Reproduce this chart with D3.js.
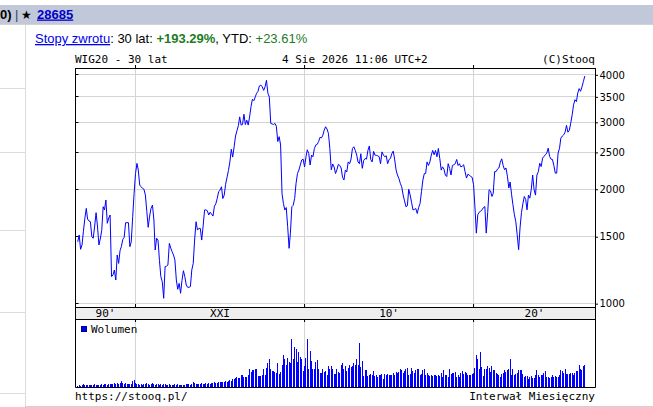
<!DOCTYPE html>
<html>
<head>
<meta charset="utf-8">
<script src="https://cdn.jsdelivr.net/npm/d3@7"></script>
<style>
body { margin: 0; background: #fff; overflow: hidden; }
svg { display: block; }
</style>
</head>
<body>
<svg id="chart" width="653" height="407"></svg>
<script>
// monthly closes of WIG20, Aug 1996 .. Aug 2026
const firstMonth = [1996, 7];
const closeValues = [
    1455,1516,1390,1427,1550,1677,1781,1670,1650,1643,
    1500,1486,1600,1735,1600,1427,1480,1560,1799,1764,
    1874,1627,1680,1711,1178,1190,1226,1154,1343,1276,
    1380,1412,1476,1495,1633,1633,1633,1412,1455,1693,
    1950,2200,2339,2246,2051,2030,2011,2000,1931,1750,
    1588,1700,1781,1817,1660,1384,1486,1470,1300,1178,
    1142,1033,1251,1255,1264,1441,1400,1370,1343,1303,
    1154,1091,1131,1065,1150,1221,1178,1120,1104,1104,
    1109,1226,1276,1470,1643,1562,1578,1578,1470,1601,
    1764,1765,1756,1711,1740,1720,1700,1805,1830,1892,
    1970,1990,2030,1890,1930,2060,2150,2240,2360,2548,
    2430,2587,2760,2850,2940,3100,2950,2960,3150,2960,
    3038,2950,3100,3300,3450,3420,3500,3575,3620,3740,
    3760,3720,3640,3720,3870,3575,3500,2980,2970,2960,
    2980,2930,2670,2750,2615,1950,1835,1764,1790,1594,
    1398,1531,1799,1815,1892,2073,2200,2246,2316,2388,
    2400,2290,2435,2540,2485,2316,2460,2435,2560,2615,
    2625,2670,2740,2730,2775,2860,2920,2880,2805,2560,
    2250,2330,2290,2200,2250,2325,2310,2275,2150,2115,
    2246,2220,2360,2335,2400,2560,2587,2530,2460,2360,
    2335,2480,2270,2380,2410,2400,2530,2600,2395,2360,
    2515,2460,2455,2450,2435,2335,2508,2460,2435,2450,
    2335,2395,2410,2480,2520,2400,2250,2180,2135,2073,
    2030,1931,1864,1799,1810,2000,1931,1848,1764,1770,
    1780,1727,1790,1835,1970,2115,2200,2200,2360,2310,
    2360,2460,2530,2465,2530,2435,2560,2410,2246,2290,
    2260,2180,2160,2335,2270,2180,2310,2320,2335,2395,
    2310,2335,2290,2300,2320,2225,2140,2190,2180,2160,
    2150,2055,1785,1533,1714,1740,1750,1765,1790,1800,
    1533,1735,1994,1980,1914,1950,2225,2225,2260,2275,
    2355,2405,2310,2250,2275,2165,2015,2090,1940,1820,
    1714,1646,1518,1387,1581,1735,1830,1914,1880,1765,
    1930,1895,2000,2180,1994,1930,2180,2225,2340,2295,
    2415,2440,2465,2490,2565,2440,2400,2395,2310,2205,
    2205,2490,2565,2726,2760,2780,2825,2945,2825,2860,
    2985,3140,3335,3440,3400,3580,3680,3620,3720,3840,
    3970
];

// monthly volume, relative units
const volumeOld = [
    2,2.5,2,3,3.5,2.5,3,3,2.5,3,
    2.5,3,3.5,2.5,3,3,2.5,4,3,3.5,
    4,3,4,3.5,4,4,4.5,3.5,5,4,
    4.5,7,5,3.5,4.5,4,3.5,3.5,4,6.5,
    7.5,5,3.5,4,3,3.5,3,4,3.5,4.5,
    3.5,3,3.5,4.5,3.5,3,3.5,4,3,3.5,
    3,3.5,4,3,3,3.5,3,3,3,3.5,
    3,3.5,3,3,3,3,3,3.5,3.5,4,
    3,4,6,4.5,4,3.5,4,4,4.5,3.5,
    4,5,4,4.5,3.5,5,5,5.5,5,4.5,
    6,5.5,6,5.5,6,6.5,6,7,7.5,7,
    8,9,10,11,9.5,10,12.5,12.5,11,11,
    11,12.5,18.5,16,17.5,18,18.5,18.5,12,12,
    12,13,18.5,12.5,20,24,29,19,17,16.5,
    16,15,24,14,16,22.5,32.5,28.5,22.5,30,
    26,25,48.5,28.5,40.5,38.5,26,36,30.5,28.5,
    16.5,22,30,49,18.5,36.5,26.5,18.5,19,26,
    27.5,19,15,15,18.5,16,16.5,13,22,19
];
const volumeNew = [
    21.5,19,14,13.5,18.5,16,15,22.5,24,19,
    21.5,16.5,20,23,21,22,24,22.5,28.5,22.5,
    45,20.5,26.5,12,17.5,17.5,12,12.5,14,13,
    16.5,12,13,11,12.5,12.5,14,9,14,13,
    14,12.5,12.5,12.5,15,13,15.5,15,16,19,
    17.5,15,16.5,19,20,12.5,14,20,16.5,15,
    17.5,19,19,12.5,14,18,19,12.5,15,13,
    12,13,12,12.5,12.5,12,13,12,15,11,
    17.5,13,12.5,11,18.5,14,15,15,15.5,11,
    13,11,15,16.5,14,15.5,15,13,13,13,
    14,15,20,32.5,28.5,19,36,21,12,19,
    19,22,20,15.5,22,17.5,17.5,15,14,12.5,
    11,14,15,17.5,15.5,17.5,18.5,28.5,13,18.5,
    12.5,14,15,17.5,17.5,17.5,14,11,12,12,
    8.5,11,12,10,10,13,17.5,13,11,12.5,
    12.5,15,16.5,11,10.5,10,11,12.5,11,12,
    11,11,13,17.5,16.5,15,18.5,14,14,14,
    14.5,15,13,15,16.5,16.5,22.5,19,17.5,22,
    23
];

const priceTicks = [1000, 1500, 2000, 2500, 3000, 3500, 4000];
const decadeYears = [2000, 2010, 2020];
const decadeLabels = ["90'", "XXI", "10'", "20'"];

const volumeValues = volumeOld.concat(volumeNew);
const monthDate = i => new Date(firstMonth[0], firstMonth[1] + i, 1);
const prices = closeValues.map((v, i) => ({ date: monthDate(i), value: v }));
const volumes = volumeValues.map((v, i) => ({ date: monthDate(i), value: v }));
const decades = decadeYears.map(yr => new Date(yr, 0, 1));

const plot = { left: 75.5, right: 595.5, top: 68.5, bottom: 307.5, band: 319.5, vbottom: 387.5 };
const mono = "'DejaVu Sans Mono', monospace";
const sans = "'Liberation Sans', Arial, sans-serif";
const gridColor = '#d4d4d4';

const svg = d3.select('#chart');

// page chrome
svg.append('rect').attr('x', 0).attr('y', 5).attr('width', 653).attr('height', 19).attr('fill', '#c0c8da');
svg.append('line').attr('x1', 0).attr('x2', 653).attr('y1', 24.5).attr('y2', 24.5).attr('stroke', '#d2d2d2');
svg.append('line').attr('x1', 25.5).attr('x2', 25.5).attr('y1', 25).attr('y2', 407).attr('stroke', '#dcdcdc');
[88, 152, 230, 312, 393].forEach(yy => {
    svg.append('line').attr('x1', 0).attr('x2', 25).attr('y1', yy + 0.5).attr('y2', yy + 0.5).attr('stroke', '#dcdcdc');
});
svg.append('line').attr('x1', 25).attr('x2', 653).attr('y1', 406.5).attr('y2', 406.5).attr('stroke', '#d2d2d2');

const header = svg.append('g').attr('font-family', sans).attr('font-size', 13);
header.append('text').attr('x', 0).attr('y', 18.5).attr('font-weight', 'bold').text('0)');
header.append('text').attr('x', 15).attr('y', 18.5).attr('fill', '#444').text('|');
header.append('text').attr('x', 21).attr('y', 18.5).attr('font-family', "'DejaVu Sans', sans-serif").attr('font-size', 12).text('★');
header.append('text').attr('x', 37).attr('y', 18.5).attr('font-weight', 'bold').attr('fill', '#0000cc')
    .attr('text-decoration', 'underline').text('28685');

const ret = header.append('text').attr('x', 35).attr('y', 43);
ret.append('tspan').attr('fill', '#0000ee').attr('text-decoration', 'underline').text('Stopy zwrotu');
ret.append('tspan').text(': 30 lat: ');
ret.append('tspan').attr('fill', '#1e7b1e').attr('font-weight', 'bold').text('+193.29%');
ret.append('tspan').text(', YTD: ');
ret.append('tspan').attr('fill', '#1e7b1e').text('+23.61%');

// titles
const titles = svg.append('g').attr('font-family', mono).attr('font-size', 11);
titles.append('text').attr('x', 75).attr('y', 63).text('WIG20 - 30 lat');
titles.append('text').attr('x', 282).attr('y', 63).text('4 Sie 2026 11:06 UTC+2');
titles.append('text').attr('x', 595).attr('y', 63).attr('text-anchor', 'end').text('(C)Stooq');
titles.append('text').attr('x', 75).attr('y', 399.5).text('https://stooq.pl/');
titles.append('text').attr('x', 595).attr('y', 399.5).attr('text-anchor', 'end').text('Interwał Miesięczny');

// scales
const x = d3.scaleTime()
    .domain([new Date(1996, 5, 13), new Date(2027, 2, 20)])
    .range([plot.left, plot.right]);
const y = d3.scaleLog()
    .domain([977, 4156])
    .range([plot.bottom, plot.top]);
const yv = d3.scaleLinear()
    .domain([0, 68])
    .range([plot.vbottom, plot.band]);

const crisp = v => Math.round(v - 0.5) + 0.5;

// grid
const grid = svg.append('g').attr('stroke', gridColor).attr('stroke-width', 1);
grid.selectAll('.hg').data(priceTicks).join('line')
    .attr('x1', plot.left).attr('x2', plot.right)
    .attr('y1', d => crisp(y(d))).attr('y2', d => crisp(y(d)));
grid.selectAll('.vg').data(decades).join('line')
    .attr('x1', d => crisp(x(d))).attr('x2', d => crisp(x(d)))
    .attr('y1', plot.top).attr('y2', plot.bottom);
grid.selectAll('.vv').data(decades).join('line')
    .attr('x1', d => crisp(x(d))).attr('x2', d => crisp(x(d)))
    .attr('y1', plot.band).attr('y2', plot.vbottom);

// price line
const line = d3.line().x(d => x(d.date)).y(d => y(d.value));
svg.append('path').datum(prices)
    .attr('d', line)
    .attr('fill', 'none')
    .attr('stroke', '#0000ff')
    .attr('stroke-width', 1)
    .attr('stroke-linejoin', 'round');

// volume bars, snapped to whole pixels
svg.append('g').attr('fill', '#0000ff').attr('shape-rendering', 'crispEdges')
    .selectAll('rect').data(volumes).join('rect')
    .attr('x', d => Math.floor(x(d.date)))
    .attr('width', 1)
    .attr('y', d => Math.round(yv(d.value)))
    .attr('height', d => Math.round(yv(0)) - Math.round(yv(d.value)));

// frames
const frame = svg.append('g').attr('fill', 'none').attr('stroke', '#000').attr('stroke-width', 1);
frame.append('rect').attr('x', plot.left).attr('y', plot.top)
    .attr('width', plot.right - plot.left).attr('height', plot.bottom - plot.top);
frame.append('rect').attr('x', plot.left).attr('y', plot.bottom)
    .attr('width', plot.right - plot.left).attr('height', plot.band - plot.bottom)
    .attr('fill', '#eeeeee');
frame.append('path')
    .attr('d', `M${plot.left},${plot.band}V${plot.vbottom}H${plot.right}V${plot.band}`);

// left inner ticks on price gridlines
frame.selectAll('.lt').data(priceTicks).join('line')
    .attr('x1', plot.left).attr('x2', plot.left + 3)
    .attr('y1', d => crisp(y(d))).attr('y2', d => crisp(y(d)));

// right price axis
const yaxis = d3.axisRight(y).tickValues(priceTicks).tickSize(3).tickPadding(1.5).tickFormat(d3.format('d'));
const yaxisGroup = svg.append('g').attr('transform', `translate(${plot.right - 0.5},0)`).call(yaxis);
yaxisGroup.select('.domain').remove();
yaxisGroup.selectAll('text').attr('font-family', "'DejaVu Sans', sans-serif").attr('font-size', 10).attr('fill', '#000');

// decade ticks
const tickUp = d3.axisTop(x).tickValues(decades).tickSize(3).tickFormat('');
const tickDown = d3.axisBottom(x).tickValues(decades).tickSize(3).tickFormat('');
[[tickUp, plot.top - 0.5], [tickUp, plot.bottom - 0.5], [tickDown, plot.band - 0.5]].forEach(([ax, yy]) => {
    const g = svg.append('g').attr('transform', `translate(-0.5,${yy})`).call(ax);
    g.select('.domain').remove();
});

// decade labels in the band
const bounds = [x.domain()[0]].concat(decades, [x.domain()[1]]);
svg.append('g').attr('font-family', mono).attr('font-size', 11).attr('text-anchor', 'middle')
    .selectAll('text').data(d3.pairs(bounds)).join('text')
    .attr('x', d => (x(d[0]) + x(d[1])) / 2)
    .attr('y', 317)
    .text((d, i) => decadeLabels[i]);

// volume legend
svg.append('rect').attr('x', 81.5).attr('y', 326.5).attr('width', 5).attr('height', 5)
    .attr('fill', '#0000ff').attr('stroke', '#000080');
svg.append('text').attr('x', 91).attr('y', 333).attr('font-family', mono).attr('font-size', 11).text('Wolumen');
</script>
</body>
</html>
